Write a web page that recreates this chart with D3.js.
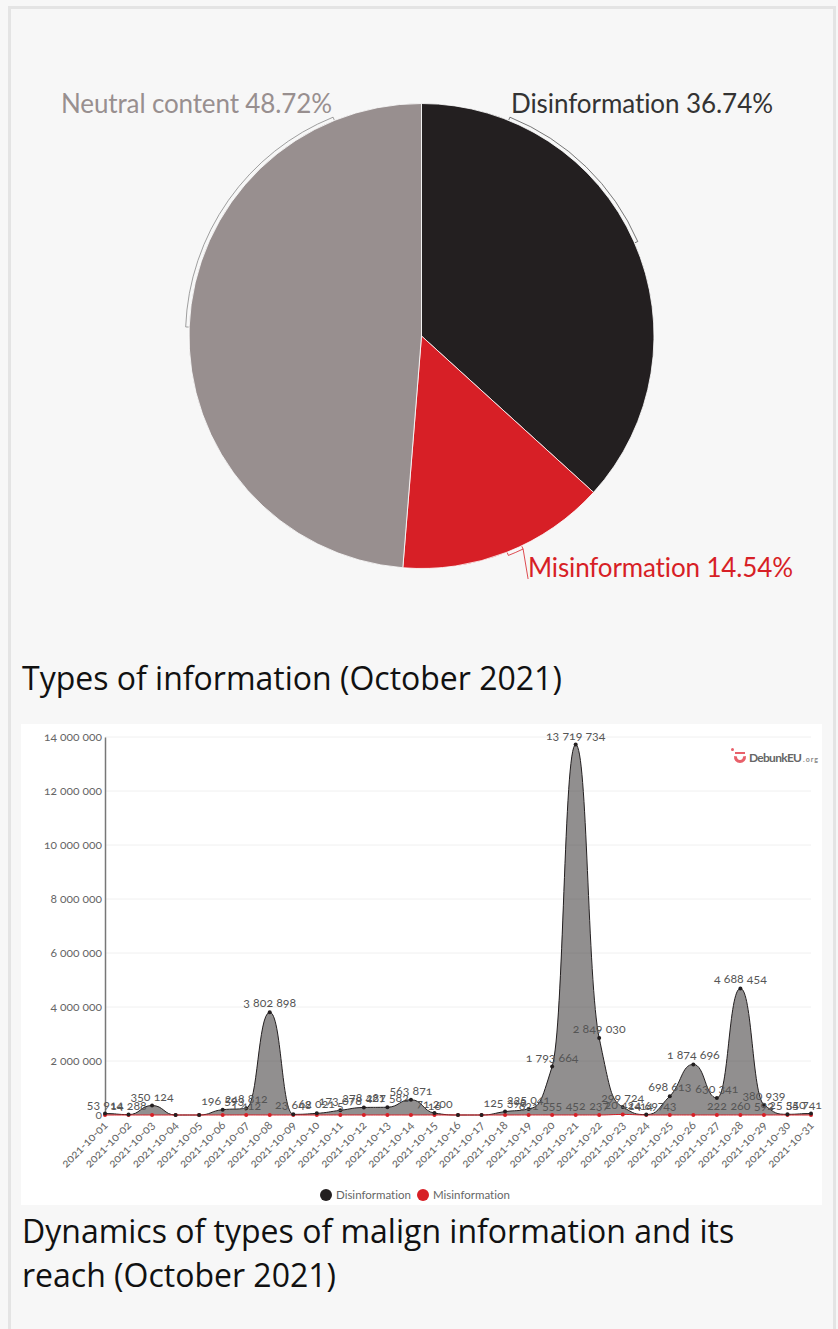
<!DOCTYPE html>
<html>
<head>
<meta charset="utf-8">
<script src="https://cdnjs.cloudflare.com/ajax/libs/d3/7.8.5/d3.min.js"></script>
<style>
  body { margin: 0; background: #f7f7f7; }
  svg { display: block; }
  text { font-family: Lato, sans-serif; font-variant-ligatures: none; }
  .caption { font-family: "Open Sans", sans-serif; font-size: 32px; fill: #111; }
  .old-nums text, text.old-nums { font-variant-numeric: oldstyle-nums; }
</style>
</head>
<body>
<script>
// pie data
const pieNames = ["Disinformation", "Misinformation", "Neutral content"];
const pieShares = [36.74, 14.54, 48.72];
const pieColors = ["#231f20", "#d71f26", "#988f8f"];

// daily reach
const dates = ["2021-10-01","2021-10-02","2021-10-03","2021-10-04","2021-10-05","2021-10-06","2021-10-07","2021-10-08",
  "2021-10-09","2021-10-10","2021-10-11","2021-10-12","2021-10-13","2021-10-14","2021-10-15","2021-10-16",
  "2021-10-17","2021-10-18","2021-10-19","2021-10-20","2021-10-21","2021-10-22","2021-10-23","2021-10-24",
  "2021-10-25","2021-10-26","2021-10-27","2021-10-28","2021-10-29","2021-10-30","2021-10-31"];
const disinformation = [53914,14288,350124,0,0,196593,248812,3802898,
  23648,62021,173078,278421,287582,563871,71200,0,
  0,125398,225041,1793664,13719734,2849030,299724,14697,
  698613,1874696,630341,4688454,380939,25350,54741];
const misinformation = [0,0,0,0,0,0,1412,0,
  0,0,5,0,0,0,16,0,
  0,0,821,555,452,237,20424,14,
  43,0,222,260,592,0,0];
const yTicks = [0,2000000,4000000,6000000,8000000,10000000,12000000,14000000];

const width = 838, height = 1329;
const svg = d3.select("body").append("svg")
    .attr("width", width)
    .attr("height", height);

// page frame
svg.append("rect")
    .attr("x", 9.5).attr("y", 7.5)
    .attr("width", 825).attr("height", 1340)
    .attr("fill", "#f7f7f7")
    .attr("stroke", "#e4e4e4")
    .attr("stroke-width", 3);

// ---- pie ----
const pieG = svg.append("g").attr("transform", "translate(421.5,336)");
const radius = 232.5;
const arcs = d3.pie().sort(null).value(d => d)(pieShares);
pieG.selectAll("path.slice")
  .data(arcs)
  .join("path")
    .attr("class", "slice")
    .attr("d", d3.arc().innerRadius(0).outerRadius(radius))
    .attr("fill", (d, i) => pieColors[i])
    .attr("stroke", "#fff")
    .attr("stroke-width", 0.8);

// brackets next to the slices: [start deg, end deg, colour]
const brackets = [[22, 66.4, "#555"], [154.5, 158.4, "#d71f26"], [272.2, 338, "#888"]];
const rad = d => d * Math.PI / 180;
const polar = (r, a) => [r * Math.sin(rad(a)), -r * Math.cos(rad(a))];
brackets.forEach(([a0, a1, col]) => {
  const p = d3.path();
  const s0 = polar(233, a0), s1 = polar(236, a0);
  p.moveTo(s0[0], s0[1]);
  p.lineTo(s1[0], s1[1]);
  p.arc(0, 0, 236, rad(a0) - Math.PI / 2, rad(a1) - Math.PI / 2);
  const e = polar(233, a1);
  p.lineTo(e[0], e[1]);
  pieG.append("path")
      .attr("d", p.toString())
      .attr("fill", "none")
      .attr("stroke", col)
      .attr("stroke-width", 0.8);
});
// leader of the misinformation label
const leadStart = polar(236, 154.5);
pieG.append("path")
    .attr("d", d3.line()([leadStart, [leadStart[0] + 5, leadStart[1] + 30]]))
    .attr("fill", "none")
    .attr("stroke", "#d71f26")
    .attr("stroke-width", 0.8);

const pieLabels = [[511, 113, 262], [528, 577, 265], [61, 113, 271]];
svg.selectAll("text.pie-label")
  .data(pieNames)
  .join("text")
    .attr("class", "pie-label")
    .attr("x", (d, i) => pieLabels[i][0])
    .attr("y", (d, i) => pieLabels[i][1])
    .attr("textLength", (d, i) => pieLabels[i][2])
    .attr("font-size", 26)
    .attr("fill", (d, i) => i == 0 ? "#333" : pieColors[i])
    .text((d, i) => d + " " + pieShares[i].toFixed(2) + "%");

svg.append("text").attr("class", "caption").attr("x", 22).attr("y", 690)
    .text("Types of information (October 2021)");

// ---- area chart ----
svg.append("rect")
    .attr("x", 21).attr("y", 724)
    .attr("width", 801).attr("height", 481)
    .attr("fill", "#fff");

const x = d3.scalePoint().domain(dates).range([105, 811]);
const y = d3.scaleLinear().domain([0, 14000000]).range([1115, 737]);
const spaced = d3.formatLocale({ decimal: ".", thousands: " ", grouping: [3], currency: ["", ""] }).format(",d");

const chart = svg.append("g").attr("class", "old-nums");

// grid
chart.append("g")
  .selectAll("line")
  .data(yTicks.slice(1))
  .join("line")
    .attr("x1", x.range()[0])
    .attr("x2", x.range()[1])
    .attr("y1", d => y(d))
    .attr("y2", d => y(d))
    .attr("stroke", "#f0f0f0");

// spline with long handles, the peaks in the original are rounder than monotoneX
function splinePath(values) {
  const pts = values.map((v, i) => [x(dates[i]), y(v)]);
  const dx = x.step();
  const slope = pts.map((p, i) => {
    if (i == 0 || i == pts.length - 1) return 0;
    const a = (p[1] - pts[i - 1][1]) / dx, b = (pts[i + 1][1] - p[1]) / dx;
    if (a * b <= 0) return 0;
    return 2 * a * b / (a + b);
  });
  const p = d3.path();
  p.moveTo(pts[0][0], pts[0][1]);
  for (let i = 1; i < pts.length; i++) {
    const h = dx * 0.5;
    p.bezierCurveTo(pts[i - 1][0] + h, pts[i - 1][1] + slope[i - 1] * h,
                    pts[i][0] - h, pts[i][1] - slope[i] * h,
                    pts[i][0], pts[i][1]);
  }
  return p.toString();
}

chart.append("path")
    .attr("d", splinePath(disinformation) + `L${x.range()[1]},${y(0)}L${x.range()[0]},${y(0)}Z`)
    .attr("fill", "#231f20").attr("fill-opacity", 0.5);
chart.append("path").attr("d", splinePath(disinformation)).attr("fill", "none").attr("stroke", "#231f20").attr("stroke-width", 1);
chart.append("path").attr("d", splinePath(misinformation)).attr("fill", "none").attr("stroke", "#d71f26").attr("stroke-width", 1);

// axes
const yAxis = d3.axisLeft(y).tickValues(yTicks).tickFormat(spaced).tickSize(0).tickPadding(3);
chart.append("g")
    .attr("transform", "translate(105,0)")
    .call(yAxis)
    .call(g => g.select(".domain").attr("stroke", "#777").attr("stroke-width", 1.5))
    .call(g => g.selectAll("text").attr("font-family", "Lato").attr("font-size", 12).attr("fill", "#666"));

const xAxis = d3.axisBottom(x).tickSize(0).tickPadding(0);
chart.append("g")
    .attr("transform", "translate(0,1115)")
    .call(xAxis)
    .call(g => g.select(".domain").remove())
    .call(g => g.selectAll("text")
        .attr("font-family", "Lato")
        .attr("font-size", 11.8)
        .attr("fill", "#666")
        .attr("text-anchor", "end")
        .attr("dy", 0)
        .attr("y", 0)
        .attr("transform", "translate(3,11) rotate(-45)"));

// points
chart.append("g")
  .selectAll("circle")
  .data(misinformation)
  .join("circle")
    .attr("cx", (d, i) => x(dates[i]))
    .attr("cy", d => y(d))
    .attr("r", 2)
    .attr("fill", "#d71f26");
chart.append("g")
  .selectAll("circle")
  .data(disinformation)
  .join("circle")
    .attr("cx", (d, i) => x(dates[i]))
    .attr("cy", d => y(d))
    .attr("r", 2)
    .attr("fill", "#231f20");

// value labels, nudged back inside the panel when they run over
function labels(values) {
  chart.append("g")
    .selectAll("text")
    .data(values.map((v, i) => ({ v, i })).filter(d => d.v > 0))
    .join("text")
      .attr("y", d => y(d.v) - 5)
      .attr("text-anchor", "middle")
      .attr("font-size", 12.3)
      .attr("fill", "#555")
      .text(d => spaced(d.v))
      .attr("x", function(d) {
        return Math.min(x(dates[d.i]), 822 - this.getComputedTextLength() / 2);
      });
}
labels(disinformation);
labels(misinformation);

// legend
const legend = svg.append("g");
[[326, "#231f20", pieNames[0]], [423, "#d71f26", pieNames[1]]].forEach(([lx, col, name]) => {
  legend.append("circle").attr("cx", lx).attr("cy", 1195).attr("r", 6).attr("fill", col);
  legend.append("text").attr("x", lx + 10).attr("y", 1199)
      .attr("font-size", 11.5).attr("fill", "#666").text(name);
});

// logo
const logo = svg.append("g").attr("transform", "translate(740,757)");
logo.append("path")
    .attr("d", d3.arc().innerRadius(3).outerRadius(6).startAngle(Math.PI * 0.45).endAngle(Math.PI * 1.55)())
    .attr("fill", "#e8606a");
logo.append("path").attr("d", "M-5,-4 H5").attr("stroke", "#e8606a").attr("stroke-width", 2);
logo.append("circle").attr("cx", -7.5).attr("cy", -7.5).attr("r", 1.5).attr("fill", "#e8606a");
logo.append("text").attr("x", 9).attr("y", 4.5).attr("textLength", 53)
    .attr("font-size", 12).attr("font-weight", 700).attr("fill", "#666").text("DebunkEU");
logo.append("text").attr("x", 63).attr("y", 4.5).attr("textLength", 15)
    .attr("font-size", 7).attr("font-weight", 700).attr("fill", "#888").text(".org");

svg.append("text").attr("class", "caption").attr("x", 22).attr("y", 1243)
    .text("Dynamics of types of malign information and its");
svg.append("text").attr("class", "caption").attr("x", 22).attr("y", 1287)
    .text("reach (October 2021)");
</script>
</body>
</html>
